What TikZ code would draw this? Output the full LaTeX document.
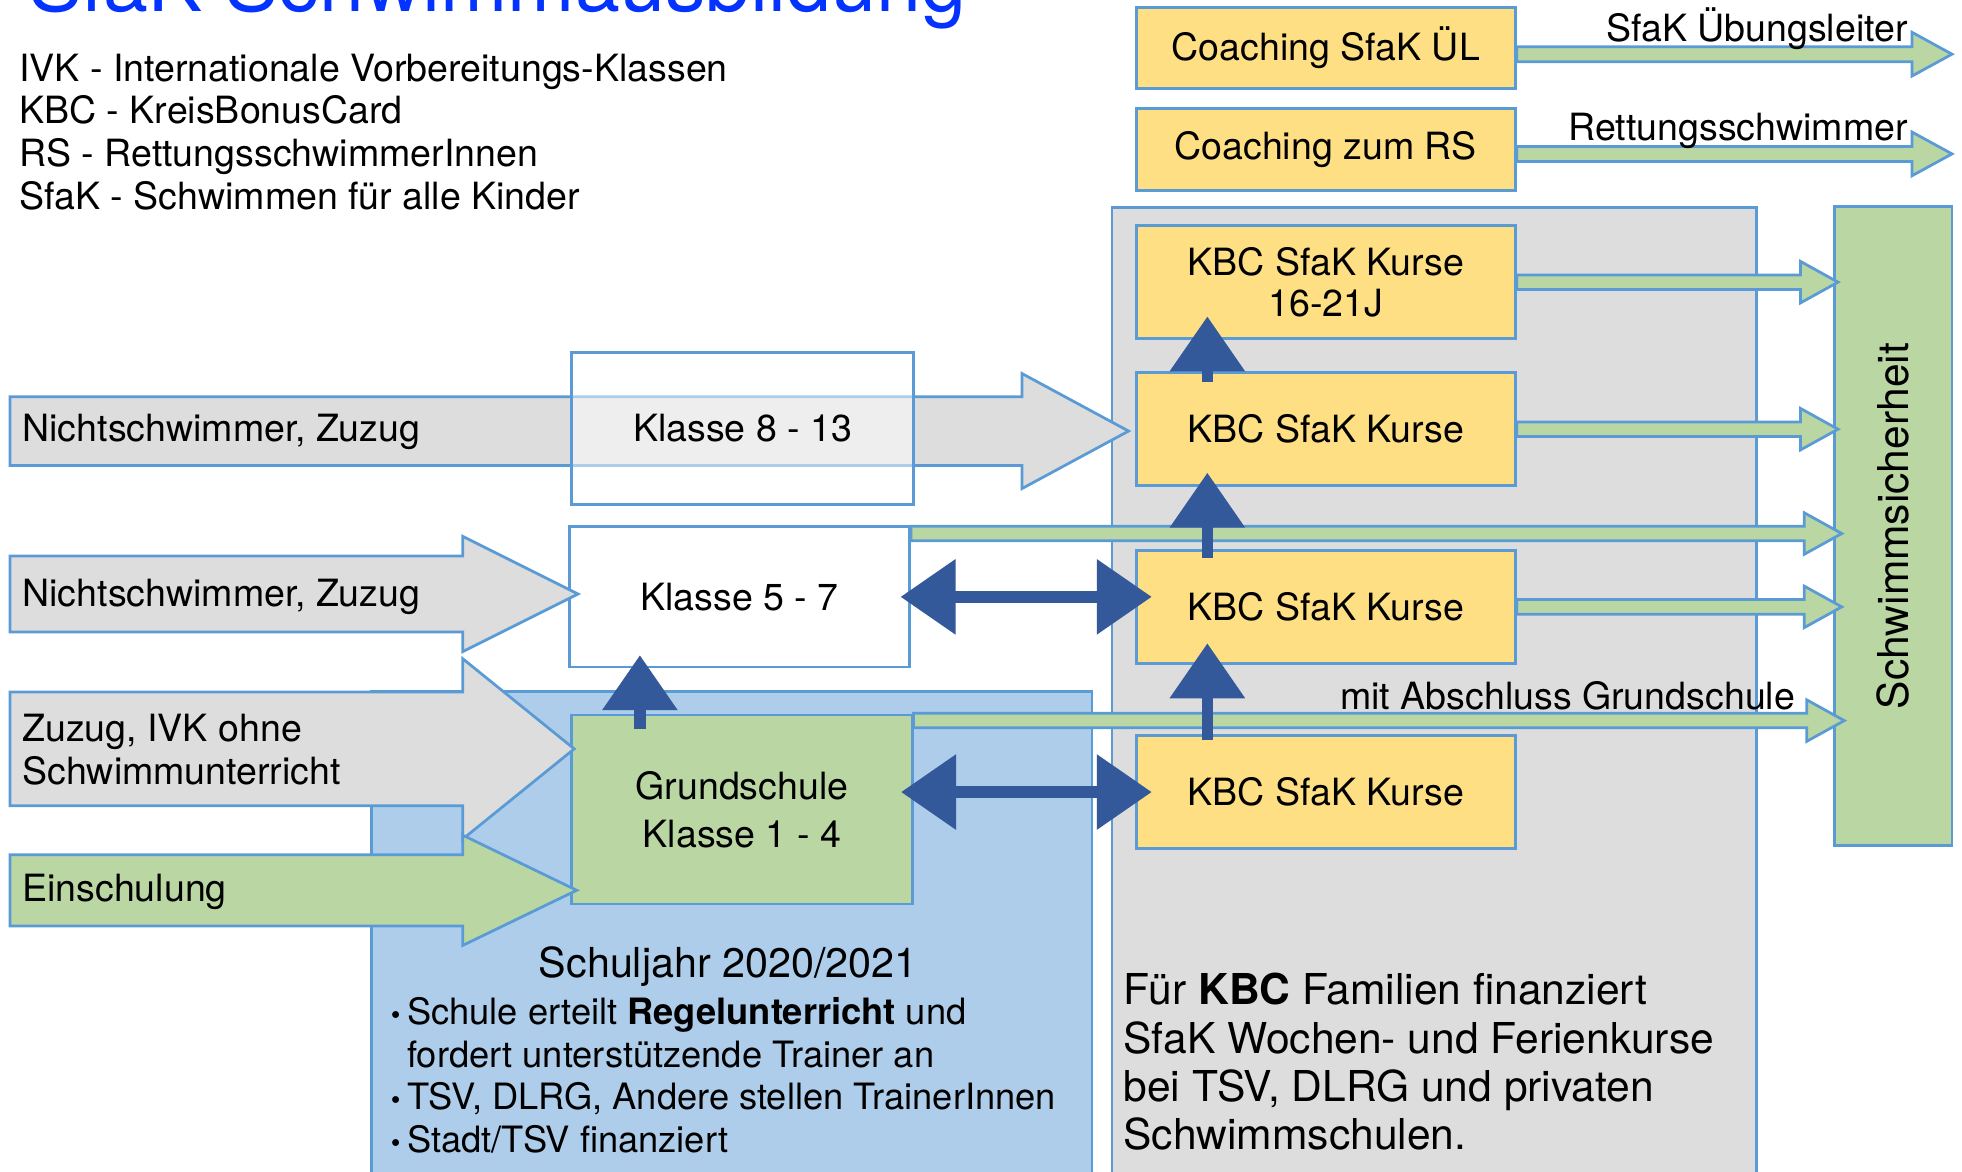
\documentclass[tikz,border=0pt]{standalone}
\usepackage{fontspec}
\setmainfont{TeX Gyre Heros}
\usepackage{graphicx}
\usetikzlibrary{arrows.meta,calc}
\definecolor{linecol}{HTML}{5B9BD5}
\definecolor{greyfill}{HTML}{DDDDDD}
\definecolor{safegreen}{HTML}{B9D6A3}
\definecolor{kursyellow}{HTML}{FFDF83}
\definecolor{schoolblue}{HTML}{AECDEA}
\definecolor{pushblue}{HTML}{33599B}
\definecolor{titleblue}{HTML}{0433FF}
\newcommand{\fsz}[2]{\fontsize{#1pt}{#2pt}\selectfont}
\newcommand{\listdot}{\makebox[6.5pt][l]{\fsz{11}{11}\textbullet}}

\begin{document}
\begin{tikzpicture}
    [
    x=0.5pt,y=-0.5pt,
    box/.style={draw=linecol,line width=1.1pt,inner sep=0pt,align=center,font=\fsz{15}{16.5}},
    kurs/.style={box,fill=kursyellow,minimum width=151.5pt,minimum height=45.25pt},
    coach/.style={box,fill=kursyellow,minimum width=151.5pt,minimum height=32.5pt},
    klasse/.style={box,fill=white,minimum width=136pt},
    area/.style={draw=linecol,line width=1.1pt,inner sep=0pt,anchor=north west},
    txt/.style={inner sep=0pt,font=\fsz{15}{17.1}},
    blockarrow/.style n args={3}{draw=linecol,line width=1.1pt,
      to path={let \p1=(\tikztostart), \p2=(\tikztotarget) in
        (\x1,{\y1+#1}) -- ({\x2-#3},{\y1+#1}) -- ({\x2-#3},{\y1+#2}) -- (\x2,\y1)
        -- ({\x2-#3},{\y1-#2}) -- ({\x2-#3},{\y1-#1}) -- (\x1,{\y1-#1}) -- cycle}},
    flow/.style={blockarrow={2.9pt}{8.3pt}{15pt},fill=safegreen},
    rise/.style={draw=pushblue,line width=4.6pt,-{Triangle[length=22pt,width=29pt]}},
    bothways/.style={draw=pushblue,line width=4.6pt,{Triangle[length=22pt,width=29pt]}-{Triangle[length=22pt,width=29pt]}}
    ]
    \useasboundingbox (0,0) rectangle (1568,936);
    \clip (0,0) rectangle (1568,936);
    \node (school) at (296,551.5) [area,fill=schoolblue,minimum width=287.8pt,minimum height=192.5pt] {};
    \node (kbcarea) at (887.5,165) [area,fill=greyfill,minimum width=257.5pt,minimum height=385.75pt] {};
    \node (cue) at (1059.5,38.3) [coach] {Coaching SfaK ÜL};
    \node (crs) at (1059.5,119.5) [coach] {Coaching zum RS};
    \node (kbc1) at (1059.5,225.5) [kurs] {KBC SfaK Kurse\\16-21J};
    \node (kbc2) at (1059.5,343) [kurs] {KBC SfaK Kurse};
    \node (kbc3) at (1059.5,485) [kurs] {KBC SfaK Kurse};
    \node (kbc4) at (1059.5,633) [kurs] {KBC SfaK Kurse};
    \node (safe) at (1513,420.5) [box,fill=safegreen,minimum width=47pt,minimum height=255.5pt,font=\fsz{17}{18}] {\rotatebox{90}{Schwimmsicherheit}};
    \node (k57) at (591,477) [klasse,minimum height=56pt] {Klasse 5 - 7};
    \node (gs) at (593,647) [klasse,fill=safegreen,minimum height=75.5pt,font=\fsz{15}{19.3}] {Grundschule\\Klasse 1 - 4};
    \coordinate (ns1) at (8,344.5);
    \coordinate (ns2) at (8,474.7);
    \coordinate (zz) at (8,598.5);
    \coordinate (es) at (8,711.5);
    \draw [blockarrow={15.15pt}{23pt}{46pt},fill=greyfill] (ns2) to ([xshift=4pt]k57.west);
    \draw [blockarrow={22.75pt}{36pt}{44.5pt},fill=greyfill] (zz) to ([xshift=1.5pt]gs.west);
    \draw [blockarrow={14.25pt}{22pt}{45.5pt},fill=safegreen] (es) to ([xshift=2.5pt]gs.west);
    \draw [blockarrow={13.75pt}{23pt}{42.6pt},fill=greyfill] (ns1) to ([xshift=-2.5pt]kbc2.west);
    \node (k813) at (593.5,342.5) [klasse,minimum width=136.5pt,minimum height=60.5pt,fill opacity=0.5,text opacity=1] {Klasse 8 - 13};
    \coordinate (uel) at (1560,43.3);
    \coordinate (rsw) at (1560,123);
    \draw [blockarrow={3pt}{8.75pt}{16pt},fill=safegreen] ([yshift=-2.5pt]cue.east) to (uel);
    \draw [blockarrow={3pt}{8.75pt}{16pt},fill=safegreen] ([yshift=-1.75pt]crs.east) to (rsw);
    \draw [flow] (kbc1.east) to ([xshift=2pt]safe.west);
    \draw [flow] (kbc2.east) to ([xshift=2pt]safe.west);
    \draw [flow] (kbc3.east) to ([xshift=3.5pt]safe.west);
    \draw [flow] ($(k57.north east)+(0,6.5)$) to ([xshift=3.5pt]safe.west);
    \draw [flow] ($(gs.north east)+(0,5.5)$) to ([xshift=4.5pt]safe.west);
    \draw [rise] ($(kbc2.north west)+(58,9)$) -- ($(kbc1.south west)+(58,-19)$);
    \draw [rise] ($(kbc3.north west)+(58,7.6)$) -- ($(kbc2.south west)+(58,-11.6)$);
    \draw [rise] ($(kbc4.north west)+(58,5)$) -- ($(kbc3.south west)+(58,-17.3)$);
    \draw [rise] ($(gs.north west)+(55.5,12)$) -- ($(k57.south west)+(57.5,-10.5)$);
    \draw [bothways] ($(k57.east)+(-8.4,0)$) -- ($(k57.east -| kbc3.west)+(13.6,0)$);
    \draw [bothways] ($(gs.east |- kbc4.west)+(-10,0)$) -- ($(kbc4.west)+(13.6,0)$);
    \node (title) at (22,9) [txt,anchor=base west,font=\fsz{32.3}{32},text=titleblue] {SfaK Schwimmausbildung};
    \node (legend) at (15,42.5) [txt,anchor=north west,align=left] {IVK - Internationale Vorbereitungs-Klassen\\KBC - KreisBonusCard\\RS - RettungsschwimmerInnen\\SfaK - Schwimmen für alle Kinder};
    \node (lns1) at (17.6,353) [txt,anchor=base west] {Nichtschwimmer, Zuzug};
    \node (lns2) at (17.6,484.8) [txt,anchor=base west] {Nichtschwimmer, Zuzug};
    \node (lzz) at (17.4,570) [txt,anchor=north west,align=left,font=\fsz{15}{17.3}] {Zuzug, IVK ohne\\Schwimmunterricht};
    \node (les) at (17.4,720.6) [txt,anchor=base west] {Einschulung};
    \node (luel) at (1525,33.3) [txt,anchor=base east] {SfaK Übungsleiter};
    \node (lrs) at (1525,112) [txt,anchor=base east] {Rettungsschwimmer};
    \node (lmag) at (1435,567) [txt,anchor=base east] {mit Abschluss Grundschule};
    \node (sjhead) at (582,781.5) [txt,anchor=base,font=\fsz{16.5}{18}] {Schuljahr 2020/2021};
    \node (sjlist) at (312,796.5) [txt,anchor=north west,align=left,font=\fsz{14.5}{17.1}] {\listdot Schule erteilt \textbf{Regelunterricht} und\\\hspace*{6.5pt}fordert unterstützende Trainer an\\\listdot TSV, DLRG, Andere stellen TrainerInnen\\\listdot Stadt/TSV finanziert};
    \node (kbctext) at (897.5,777.5) [txt,anchor=north west,align=left,font=\fsz{17}{19.3}] {Für \textbf{KBC} Familien finanziert\\SfaK Wochen- und Ferienkurse\\bei TSV, DLRG und privaten\\Schwimmschulen.};
  \end{tikzpicture}
\end{document}
